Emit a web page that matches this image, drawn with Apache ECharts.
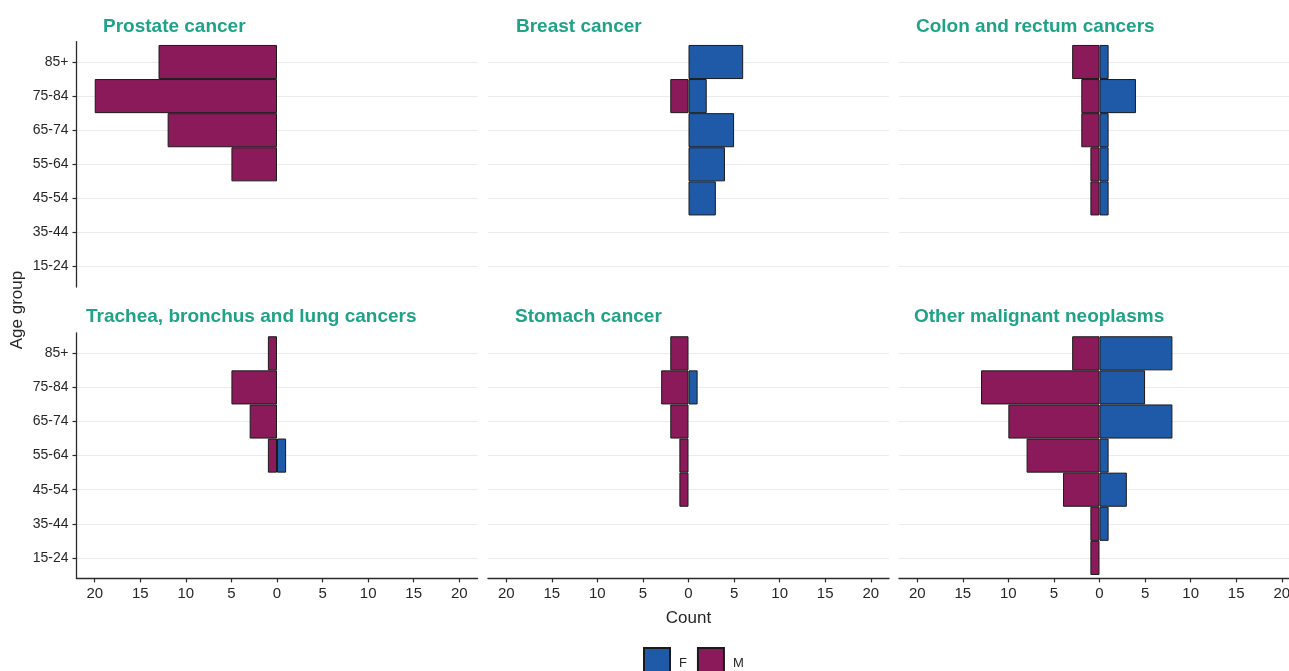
<!DOCTYPE html>
<html>
<head>
<meta charset="utf-8">
<title>Cancer deaths by age group and sex</title>
<script src="https://cdn.jsdelivr.net/npm/echarts@6/dist/echarts.min.js"></script>
<style>
  html, body { margin: 0; padding: 0; background: #ffffff; }
  #chart { width: 1289px; height: 671px; }
</style>
</head>
<body>
<div id="chart"></div>
<script>
// Age groups, bottom to top
const ageGroups = ['15-24', '35-44', '45-54', '55-64', '65-74', '75-84', '85+'];

const panelTitles = [
  'Prostate cancer',
  'Breast cancer',
  'Colon and rectum cancers',
  'Trachea, bronchus and lung cancers',
  'Stomach cancer',
  'Other malignant neoplasms'
];

// Counts per age group (same order as ageGroups); 0 = no bar
const maleProstate  = [0, 0, 0, 5, 12, 20, 13];
const femaleProstate = [0, 0, 0, 0, 0, 0, 0];
const maleBreast    = [0, 0, 0, 0, 0, 2, 0];
const femaleBreast  = [0, 0, 3, 4, 5, 2, 6];
const maleColon     = [0, 0, 1, 1, 2, 2, 3];
const femaleColon   = [0, 0, 1, 1, 1, 4, 1];
const maleLung      = [0, 0, 0, 1, 3, 5, 1];
const femaleLung    = [0, 0, 0, 1, 0, 0, 0];
const maleStomach   = [0, 0, 1, 1, 2, 3, 2];
const femaleStomach = [0, 0, 0, 0, 0, 1, 0];
const maleOther     = [1, 1, 4, 8, 10, 13, 3];
const femaleOther   = [0, 1, 3, 1, 8, 5, 8];

const countTicks = [-20, -15, -10, -5, 0, 5, 10, 15, 20];

const maleSeries = [maleProstate, maleBreast, maleColon, maleLung, maleStomach, maleOther];
const femaleSeries = [femaleProstate, femaleBreast, femaleColon, femaleLung, femaleStomach, femaleOther];

// Layout of the 3 x 2 facet panels
const FONT = '"Liberation Sans", Arial, Helvetica, sans-serif';
const colLeft = [76.5, 488, 899];
const panelW = 401;
const band = 34.1;
const firstCenter = [62, 353.3];      // y of the top category centre in each row
const COLOR_F = '#1f5aa8';
const COLOR_M = '#8b1a5b';
const TITLE_COLOR = '#1fa287';
const AXIS_COLOR = '#2b2b2b';
const TEXT_COLOR = '#262626';

const grids = [], xAxes = [], yAxes = [], series = [], titles = [];

for (let p = 0; p < 6; p++) {
  const col = p % 3, row = Math.floor(p / 3);
  const left = colLeft[col];
  const c0 = firstCenter[row];
  const isLeft = col === 0, isBottom = row === 1;
  const gi = grids.length;

  // data grid: one band per age group
  grids.push({ left: left, width: panelW, top: c0 - band / 2, height: band * 7,
               containLabel: false, outerBoundsMode: 'none' });
  // guide grid: spans category centres, carries gridlines and age labels
  grids.push({ left: left, width: panelW, top: c0, height: band * 6,
               containLabel: false, outerBoundsMode: 'none' });
  // frame grid: panel extent, carries axis lines and count labels
  grids.push({ left: left, width: panelW, top: c0 - band * 0.6, height: band * 7.2,
               containLabel: false, outerBoundsMode: 'none' });

  // data axes
  xAxes.push({ type: 'value', gridIndex: gi, min: -22, max: 22, show: false });
  yAxes.push({ type: 'category', gridIndex: gi, data: ageGroups, show: false,
               axisLine: { onZero: false } });

  // guide axes
  xAxes.push({ type: 'value', gridIndex: gi + 1, min: -22, max: 22, show: false });
  yAxes.push({
    type: 'category', gridIndex: gi + 1, data: ageGroups, boundaryGap: false,
    position: 'left',
    axisLine: { show: false, onZero: false },
    axisTick: { show: isLeft, length: 4, interval: 0,
                lineStyle: { color: AXIS_COLOR, width: 1.2 } },
    axisLabel: { show: isLeft, interval: 0, margin: 8, fontFamily: FONT,
                 fontSize: 14, color: TEXT_COLOR },
    splitLine: { show: true, interval: 0, lineStyle: { color: '#ebebeb', width: 1 } }
  });

  // frame axes
  xAxes.push({
    type: 'value', gridIndex: gi + 2, min: -22, max: 22, position: 'bottom',
    axisLine: { show: isBottom, onZero: false, lineStyle: { color: AXIS_COLOR, width: 1.3 } },
    axisTick: { show: isBottom, length: 4, customValues: countTicks,
                lineStyle: { color: AXIS_COLOR, width: 1.2 } },
    axisLabel: { show: isBottom, customValues: countTicks, margin: 8,
                 fontFamily: FONT, fontSize: 15, color: TEXT_COLOR,
                 formatter: v => String(Math.abs(v)) },
    splitLine: { show: false }
  });
  yAxes.push({
    type: 'value', gridIndex: gi + 2, min: 0, max: 1, position: 'left',
    axisLine: { show: isLeft, onZero: false, lineStyle: { color: AXIS_COLOR, width: 1.3 } },
    axisTick: { show: false }, axisLabel: { show: false }, splitLine: { show: false }
  });

  // bars: females to the right, males to the left
  const barBase = {
    type: 'bar', xAxisIndex: gi, yAxisIndex: gi,
    barWidth: '100%', barGap: '-100%',
    itemStyle: { borderColor: '#1a1a1a', borderWidth: 1 },
    emphasis: { disabled: true }, silent: true
  };
  series.push(Object.assign({}, barBase, {
    name: 'F',
    itemStyle: Object.assign({}, barBase.itemStyle, { color: COLOR_F }),
    data: femaleSeries[p].map(v => (v ? v : null))
  }));
  series.push(Object.assign({}, barBase, {
    name: 'M',
    itemStyle: Object.assign({}, barBase.itemStyle, { color: COLOR_M }),
    data: maleSeries[p].map(v => (v ? -v : null))
  }));
}

// facet titles (left edge of each)
const titleLeft = [103, 516, 916, 86, 515, 914];
const titleTop = [17, 17, 17, 307.5, 307.5, 307.5];
panelTitles.forEach((t, i) => {
  titles.push({
    text: t, left: titleLeft[i], top: titleTop[i], padding: 0,
    textStyle: { fontFamily: FONT, fontSize: 19, fontWeight: 'bold', color: TITLE_COLOR }
  });
});

const chart = echarts.init(document.getElementById('chart'), null, { renderer: 'canvas' });
chart.setOption({
  backgroundColor: '#ffffff',
  animation: false,
  title: titles,
  grid: grids,
  xAxis: xAxes,
  yAxis: yAxes,
  series: series,
  legend: {
    data: ['F', 'M'], left: 643, top: 647, padding: 0,
    itemWidth: 26, itemHeight: 30, itemGap: 10, icon: 'rect',
    textStyle: { fontFamily: FONT, fontSize: 13, color: TEXT_COLOR, padding: [0, 0, 0, 4] },
    selectedMode: false
  },
  graphic: [
    { type: 'text', x: 688.5, y: 618, silent: true,
      style: { text: 'Count', font: '17px ' + FONT, fill: TEXT_COLOR,
               textAlign: 'center', textVerticalAlign: 'middle' } },
    { type: 'text', x: 17.5, y: 310, rotation: Math.PI / 2, silent: true,
      style: { text: 'Age group', font: '17px ' + FONT, fill: TEXT_COLOR,
               textAlign: 'center', textVerticalAlign: 'middle' } }
  ]
});
</script>
</body>
</html>
